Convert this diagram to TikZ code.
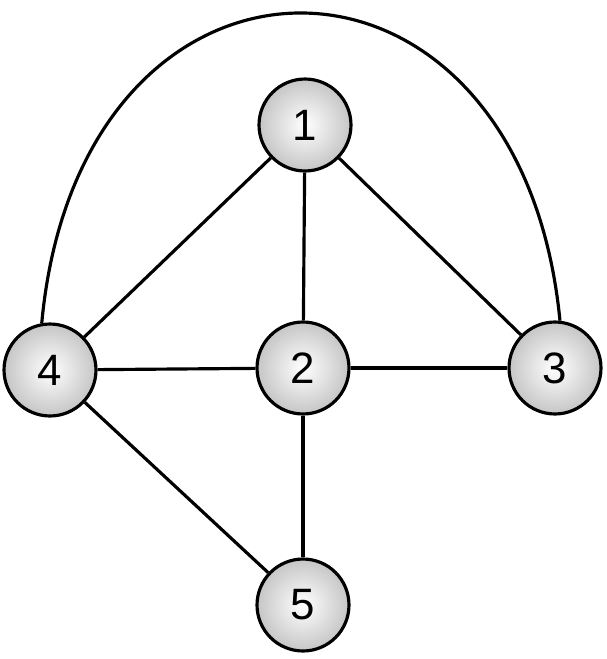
\documentclass[tikz,border=0pt]{standalone}
\usepackage{fontspec}
\setmainfont{Liberation Sans}
\begin{document}
\begin{tikzpicture}[x=0.02cm,y=-0.02cm,
    vertex/.style={circle,draw,line width=1.8pt,minimum size=1.84cm,inner sep=0pt,
      shading=radial,inner color=white,outer color=gray!45,font=\fontsize{25}{25}\selectfont},
    edge/.style={line width=1.8pt}]
  \useasboundingbox (0,0) rectangle (606,659);
  \node[vertex](n1) at (305,125){1};
  \node[vertex](n2) at (303,368){2};
  \node[vertex](n3) at (555,368){3};
  \node[vertex](n4) at (50,370){4};
  \node[vertex](n5) at (303,605){5};
  \draw[edge] (n1) -- (n2);
  \draw[edge] (n1) -- (n3);
  \draw[edge] (n1) -- (n4);
  \draw[edge] (n4) -- (n2);
  \draw[edge] (n2) -- (n3);
  \draw[edge] (n2) -- (n5);
  \draw[edge] (n4) -- (n5);
  \draw[edge] (n4.100) .. controls (80,-90) and (520,-90) .. (n3.84);
\end{tikzpicture}
\end{document}
